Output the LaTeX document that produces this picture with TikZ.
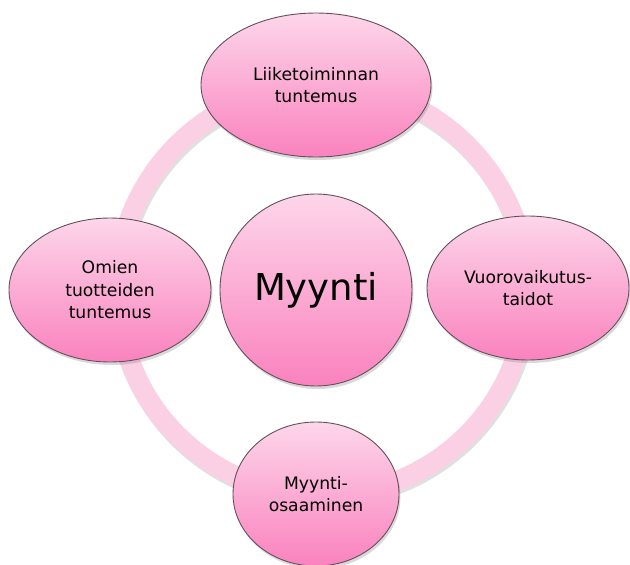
\documentclass[tikz,border=0pt]{standalone}
\usepackage{fontspec}
\setmainfont{DejaVu Sans}
\usepackage{tikz}
\usetikzlibrary{shapes.geometric,shadows,calc}

\definecolor{pinktop}{RGB}{253,214,234}
\definecolor{pinkbot}{RGB}{250,130,190}
\definecolor{ringpink}{RGB}{251,208,228}
\definecolor{rimgrey}{RGB}{100,80,90}

\tikzset{
  bubble/.style={ellipse, draw=rimgrey, line width=0.9pt, inner sep=0pt,
    top color=pinktop, bottom color=pinkbot, align=center,
    font=\fontsize{17.2}{22.5}\selectfont,
    drop shadow={opacity=0.3, shadow xshift=1.5pt, shadow yshift=-3pt}},
  ringline/.style={draw=ringpink, line width=20pt},
}

\begin{document}
\begin{tikzpicture}[x=1pt,y=-1pt]
    \useasboundingbox (0,0) rectangle (630,565);

    \coordinate (hub) at (322,290);

    % ring behind the bubbles
    \draw[black, opacity=0.12, line width=20pt] ($(hub)+(1.5,3)$) circle[radius=205];
    \draw[ringline] (hub) circle[radius=205];

    \node[bubble, minimum width=230pt, minimum height=144pt] (top) at (316,85) {Liiketoiminnan\\tuntemus};
    
    \node[bubble, minimum width=202pt, minimum height=144pt] (right) at (528,288) {Vuorovaikutus-\\taidot};
    
    \node[bubble, minimum width=202pt, minimum height=144pt] (left) at (110,290) {Omien\\tuotteiden\\tuntemus};
    
    \node[bubble, minimum width=166pt, minimum height=144pt] (bottom) at (316,494) {Myynti-\\osaaminen};
    
    \node[bubble, circle, minimum size=192pt, font=\fontsize{37}{40}\selectfont] (mid) at (316,290) {Myynti};

\end{tikzpicture}
\end{document}
